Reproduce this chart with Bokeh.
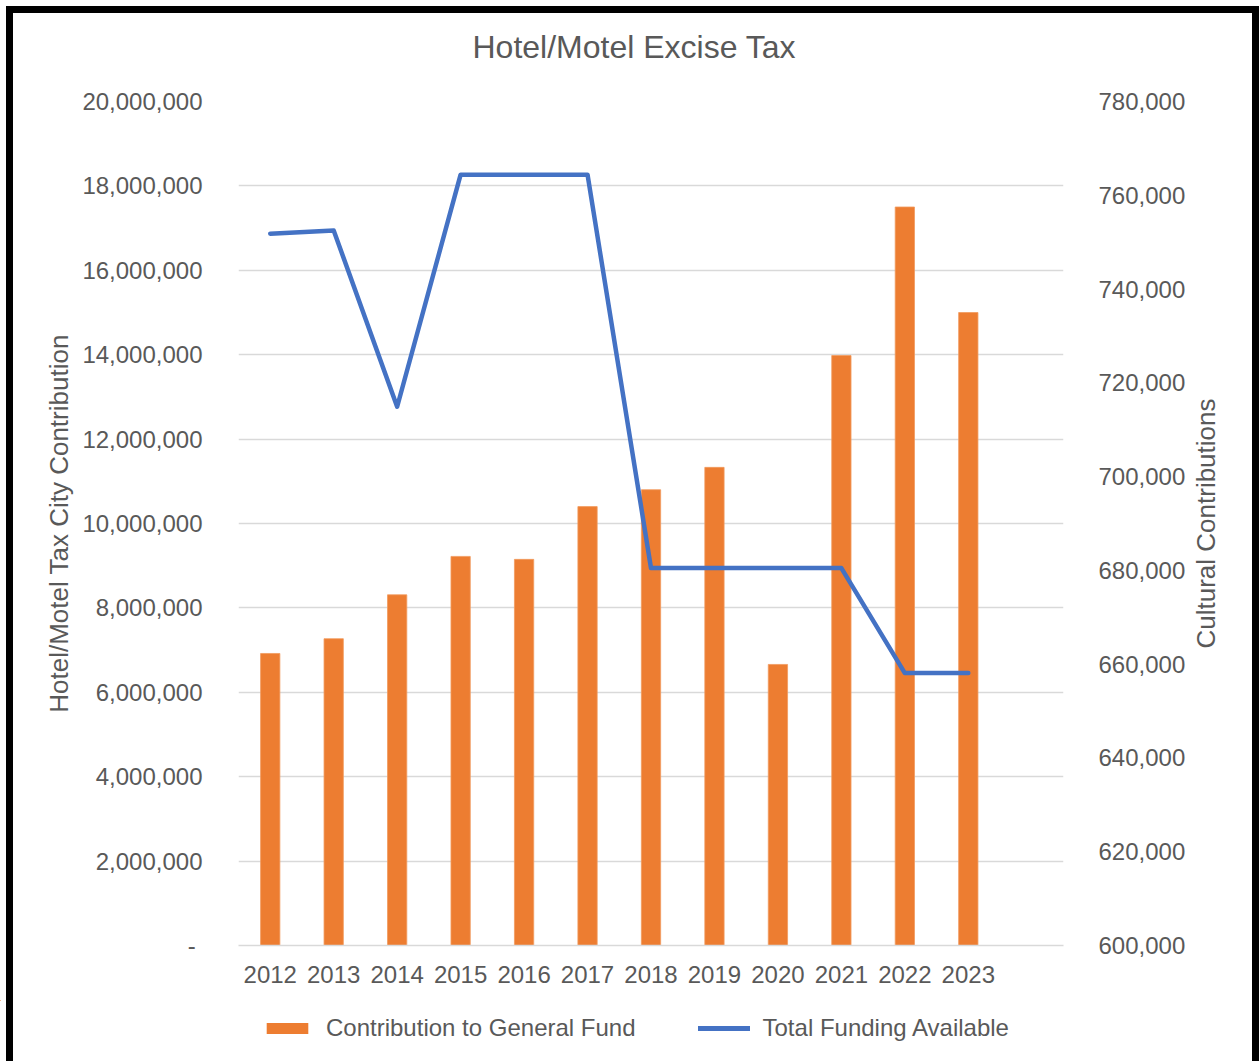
from bokeh.plotting import figure
from bokeh.layouts import column, row
from bokeh.models import (Range1d, LinearAxis, FixedTicker, CustomJSTickFormatter,
                          NumeralTickFormatter, Legend, LegendItem, Title)
from bokeh.embed import file_html
from bokeh.resources import INLINE

years = ["2012", "2013", "2014", "2015", "2016", "2017", "2018", "2019", "2020", "2021", "2022", "2023"]
contribution = [6920000, 7270000, 8310000, 9220000, 9150000, 10400000, 10800000, 11330000,
                6660000, 13980000, 17500000, 15000000]
funding = [751800, 752500, 714900, 764400, 764400, 764400, 680500, 680500, 680500, 680500, 658100, 658100]
left_ticks = [0, 2000000, 4000000, 6000000, 8000000, 10000000, 12000000, 14000000, 16000000, 18000000, 20000000]
right_ticks = [600000, 620000, 640000, 660000, 680000, 700000, 720000, 740000, 760000, 780000]
series_names = ["Contribution to General Fund", "Total Funding Available"]

idx = list(range(len(years)))
FONT = "Liberation Sans"
TXT = "#595959"
GRID = "#D9D9D9"
ORANGE = "#ED7D31"
BLUE = "#4472C4"

def blank(fig):
    fig.outline_line_color = None
    fig.background_fill_color = None
    fig.border_fill_color = None
    fig.grid.visible = False

# ---------------- main chart ----------------
p = figure(frame_width=825, frame_height=844,
           min_border_left=238, min_border_right=118, min_border_top=101, min_border_bottom=55,
           x_range=Range1d(-0.5, 12.5), y_range=Range1d(0, 20000000),
           output_backend="svg", toolbar_location=None, y_axis_location=None, x_axis_location=None)
p.outline_line_color = None
p.background_fill_color = None
p.border_fill_color = None

p.add_layout(Title(text="\u00a0", text_font_size="10px", standoff=24), "above")
p.add_layout(Title(text="Hotel/Motel Excise Tax", align="left", offset=234, text_font_size="32px",
                   text_font=FONT, text_color=TXT, text_font_style="normal", standoff=0), "above")

p.extra_y_ranges = {"right": Range1d(600000, 780000)}

def style_axis(ax):
    ax.axis_line_color = None
    ax.major_tick_line_color = None
    ax.minor_tick_line_color = None
    ax.major_label_text_font = FONT
    ax.major_label_text_font_size = "24px"
    ax.major_label_text_color = TXT
    ax.axis_label_text_font = FONT
    ax.axis_label_text_font_size = "26px"
    ax.axis_label_text_color = TXT
    ax.axis_label_text_font_style = "normal"

yl = LinearAxis(ticker=FixedTicker(ticks=left_ticks),
                formatter=CustomJSTickFormatter(code="return tick == 0 ? '-\u00a0' : Math.round(tick).toLocaleString('en-US');"),
                axis_label="Hotel/Motel Tax City Contribution")
style_axis(yl)
yl.major_label_standoff = 30
yl.axis_label_standoff = 5
p.add_layout(yl, "left")

yr = LinearAxis(y_range_name="right", ticker=FixedTicker(ticks=right_ticks),
                formatter=NumeralTickFormatter(format="0,0"))
style_axis(yr)
yr.major_label_standoff = 29
p.add_layout(yr, "right")

xa = LinearAxis(ticker=FixedTicker(ticks=idx),
                formatter=CustomJSTickFormatter(args={"years": years}, code="return years[Math.round(tick)] || '';"))
style_axis(xa)
xa.axis_line_color = GRID
xa.axis_line_width = 1.5
xa.major_label_standoff = 14
p.add_layout(xa, "below")

p.xgrid.visible = False
p.ygrid.ticker = FixedTicker(ticks=left_ticks)
p.ygrid.grid_line_color = GRID
p.ygrid.grid_line_width = 1.5

p.vbar(x=idx, top=contribution, width=0.304, fill_color=ORANGE, line_color="#F19A5E", line_width=0.8)
p.line(x=idx, y=funding, y_range_name="right", line_color=BLUE, line_width=4.5,
       line_cap="round", line_join="round")

# ---------------- right-side title (reads bottom-to-top) ----------------
p3 = figure(width=78, height=1000, frame_height=844,
            min_border_left=0, min_border_right=0, min_border_top=101, min_border_bottom=55,
            x_range=Range1d(0, 1), y_range=Range1d(0, 1),
            output_backend="svg", toolbar_location=None, x_axis_location=None, y_axis_location=None)
blank(p3)
p3.add_layout(Title(text="Cultural Contributions", align="center", text_font_size="26px",
                    text_font=FONT, text_color=TXT, text_font_style="normal", standoff=0), "left")

# ---------------- legend strip ----------------
# legend proxies: same series, zero-height / out-of-view so only the legend keys show
p2 = figure(width=1259, height=61, min_border=0, x_range=Range1d(100, 101), y_range=Range1d(-101, -100),
            output_backend="svg", toolbar_location=None, x_axis_location=None, y_axis_location=None)
blank(p2)
lb = p2.vbar(x=idx, top=contribution, bottom=contribution, width=0.304, fill_color=ORANGE, line_color=None)
ll = p2.line(x=idx, y=funding, line_color=BLUE, line_width=5, line_cap="round")
legend = Legend(items=[LegendItem(label=series_names[0], renderers=[lb]),
                       LegendItem(label=series_names[1], renderers=[ll])],
                location=(261, 19), orientation="horizontal",
                glyph_width=52, glyph_height=14, label_standoff=13, spacing=62,
                padding=0, margin=0, border_line_color=None, background_fill_alpha=0,
                label_text_font=FONT, label_text_font_size="24px", label_text_color=TXT)
p2.add_layout(legend, "center")

layout = column(row(p, p3), p2)
bar = "linear-gradient(#000,#000)"
layout.styles = {"background": f"{bar} 6px 6px / 7px 1061px no-repeat, "
                               f"{bar} 6px 6px / 1253px 7px no-repeat, "
                               f"{bar} 1252px 6px / 7px 1061px no-repeat, white"}

open("out.html", "w").write(file_html(layout, INLINE))
